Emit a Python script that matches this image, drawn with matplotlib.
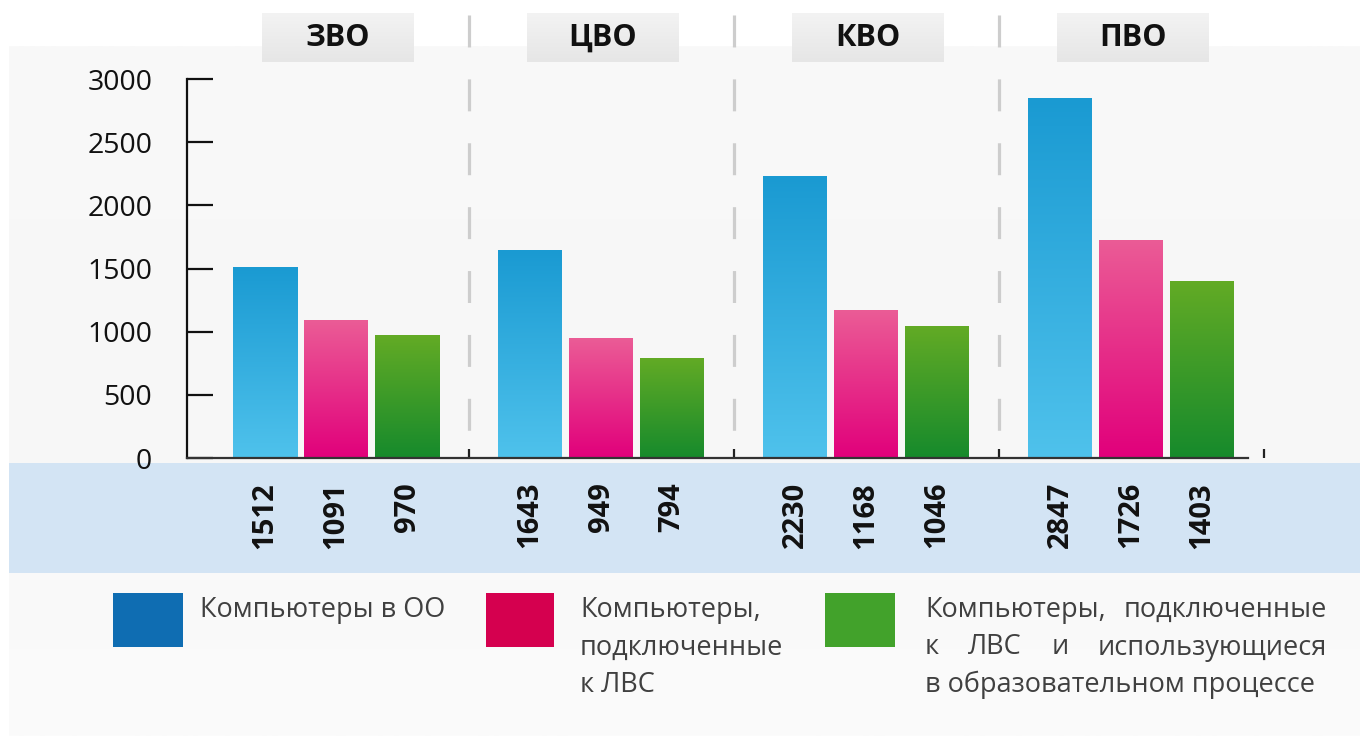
import numpy as np
import matplotlib
matplotlib.use('Agg')
import matplotlib.pyplot as plt
import matplotlib.transforms as mtransforms
from matplotlib.colors import LinearSegmentedColormap
from matplotlib.patches import Rectangle

plt.rcParams['font.family'] = ['Open Sans', 'DejaVu Sans']
plt.rcParams['lines.scale_dashes'] = False

# ---------------- data ----------------
regions = ['ЗВО', 'ЦВО', 'КВО', 'ПВО']
pcs_total = [1512, 1643, 2230, 2847]
pcs_lan = [1091, 949, 1168, 1726]
pcs_edu = [970, 794, 1046, 1403]
series_labels = ['Компьютеры в ОО',
                 'Компьютеры, подключенные к ЛВС',
                 'Компьютеры, подключенные к ЛВС и использующиеся в образовательном процессе']
y_ticks = [0, 500, 1000, 1500, 2000, 2500, 3000]

# ---------------- style ----------------
W, H = 1360, 736
fig = plt.figure(figsize=(W / 100, H / 100), dpi=100, facecolor='white')

bg = fig.add_axes([0, 0, 1, 1], zorder=0)
bg.set_xlim(0, W)
bg.set_ylim(H, 0)
bg.axis('off')
bgcmap = LinearSegmentedColormap.from_list('bgc', ['#f9f9f9', '#f7f7f7', '#fbfbfb'])
bg.imshow(np.linspace(0, 1, 256).reshape(-1, 1), cmap=bgcmap, aspect='auto',
          extent=[9, W, H, 46], zorder=0)
bg.add_patch(Rectangle((9, 463), W - 9, 110, facecolor='#d3e4f4', edgecolor='none', zorder=1))

ax = fig.add_axes([187 / W, 1 - 458 / H, (1265 - 187) / W, (458 - 79) / H], zorder=2)
ax.patch.set_visible(False)

unit = 265.0
xmin = (187 - 336) / unit
xmax = (1265 - 336) / unit
n = len(regions)
x = np.arange(n)

series = [pcs_total, pcs_lan, pcs_edu]
offsets = [-71 / unit, 0.0, 71 / unit]
bw = 64 / unit
grad_cols = [('#1a9ad2', '#4fc2ec'), ('#eb5c96', '#e1007b'), ('#63ab25', '#168a2c')]
legend_cols = ['#0f6db2', '#d5004f', '#42a22b']
grad = np.linspace(0, 1, 256).reshape(-1, 1)

for vals, off, (c1, c2) in zip(series, offsets, grad_cols):
    cmap = LinearSegmentedColormap.from_list('g', [c1, c2])
    bars = ax.bar(x + off, vals, bw, color=c1, edgecolor='none', zorder=2)
    for b in bars:
        im = ax.imshow(grad, cmap=cmap, aspect='auto', interpolation='bilinear',
                       extent=[b.get_x(), b.get_x() + b.get_width(), 0, b.get_height()], zorder=3)
        im.set_clip_path(b)

ax.set_xlim(xmin, xmax)
ax.set_ylim(0, 3000)

for s in ['top', 'right']:
    ax.spines[s].set_visible(False)
ax.spines['left'].set_bounds(0, 3000)
ax.spines['left'].set_linewidth(1.6)
ax.spines['left'].set_color('#111111')
ax.spines['bottom'].set_bounds(xmin, (1248 - 336) / unit)
ax.spines['bottom'].set_linewidth(1.6)
ax.spines['bottom'].set_color('#333333')
ax.spines['bottom'].set_zorder(4)

ax.set_yticks(y_ticks)
ax.set_yticklabels([str(t) for t in y_ticks])
ax.tick_params(axis='y', direction='in', length=19, width=1.6, pad=25,
               labelsize=20.5, colors='#111111')
ax.set_xticks(x + 0.5)
ax.set_xticklabels([])
ax.tick_params(axis='x', direction='in', length=6.5, width=1.6, color='#222222')

# value labels under bars
lab_tr = mtransforms.blended_transform_factory(ax.transData, bg.transData)
for vals, off in zip(series, offsets):
    for xi, v in zip(x, vals):
        ax.text(xi + off, 482, str(v), transform=lab_tr, rotation=90, ha='center', va='top',
                fontsize=21, fontweight='bold', color='#111111')

# headers and dividers (pixel positions from the axes transform)
hcmap = LinearSegmentedColormap.from_list('h', ['#f3f3f3', '#e6e6e6'])
for xi, name in zip(x, regions):
    cx = ax.transData.transform((xi, 0))[0] + 2
    bg.imshow(grad, cmap=hcmap, aspect='auto', extent=[cx - 76, cx + 76, 62, 13], zorder=1)
    bg.text(cx, 45.5, name, ha='center', va='baseline', fontsize=22, fontweight='bold', color='#111111')
for xi in x[:-1]:
    dx = ax.transData.transform((xi + 0.5, 0))[0]
    bg.plot([dx, dx], [15, 440], color='#cdcdcd', lw=2.3, dashes=(23, 23), solid_capstyle='butt')
bg.set_xlim(0, W)
bg.set_ylim(H, 0)

# legend
renderer = fig.canvas.get_renderer()
tkw = dict(fontsize=19.5, color='#404040', va='baseline', ha='left')


def justified(words, x0, x1, y):
    ts = [bg.text(0, y, w, **tkw) for w in words]
    widths = [t.get_window_extent(renderer).width for t in ts]
    gap = (x1 - x0 - sum(widths)) / (len(words) - 1)
    cur = x0
    for t, w in zip(ts, widths):
        t.set_x(cur)
        cur += w + gap


sq = [(113, 70), (486, 68), (825, 70)]
for (sx, sw), col in zip(sq, legend_cols):
    bg.add_patch(Rectangle((sx, 593), sw, 54, facecolor=col, edgecolor='none', zorder=2))

base = [617, 654.5, 692]
bg.text(200, base[0], series_labels[0], **tkw)
pink_lines = ['Компьютеры,', 'подключенные', 'к ЛВС']
for yb, line in zip(base, pink_lines):
    bg.text(580, yb, line, **tkw)
justified(['Компьютеры,', 'подключенные'], 925, 1327, base[0])
justified(['к', 'ЛВС', 'и', 'использующиеся'], 925, 1327, base[1])
bg.text(925, base[2], 'в образовательном процессе', **tkw)

fig.savefig('out.png', dpi=100, facecolor=fig.get_facecolor())
